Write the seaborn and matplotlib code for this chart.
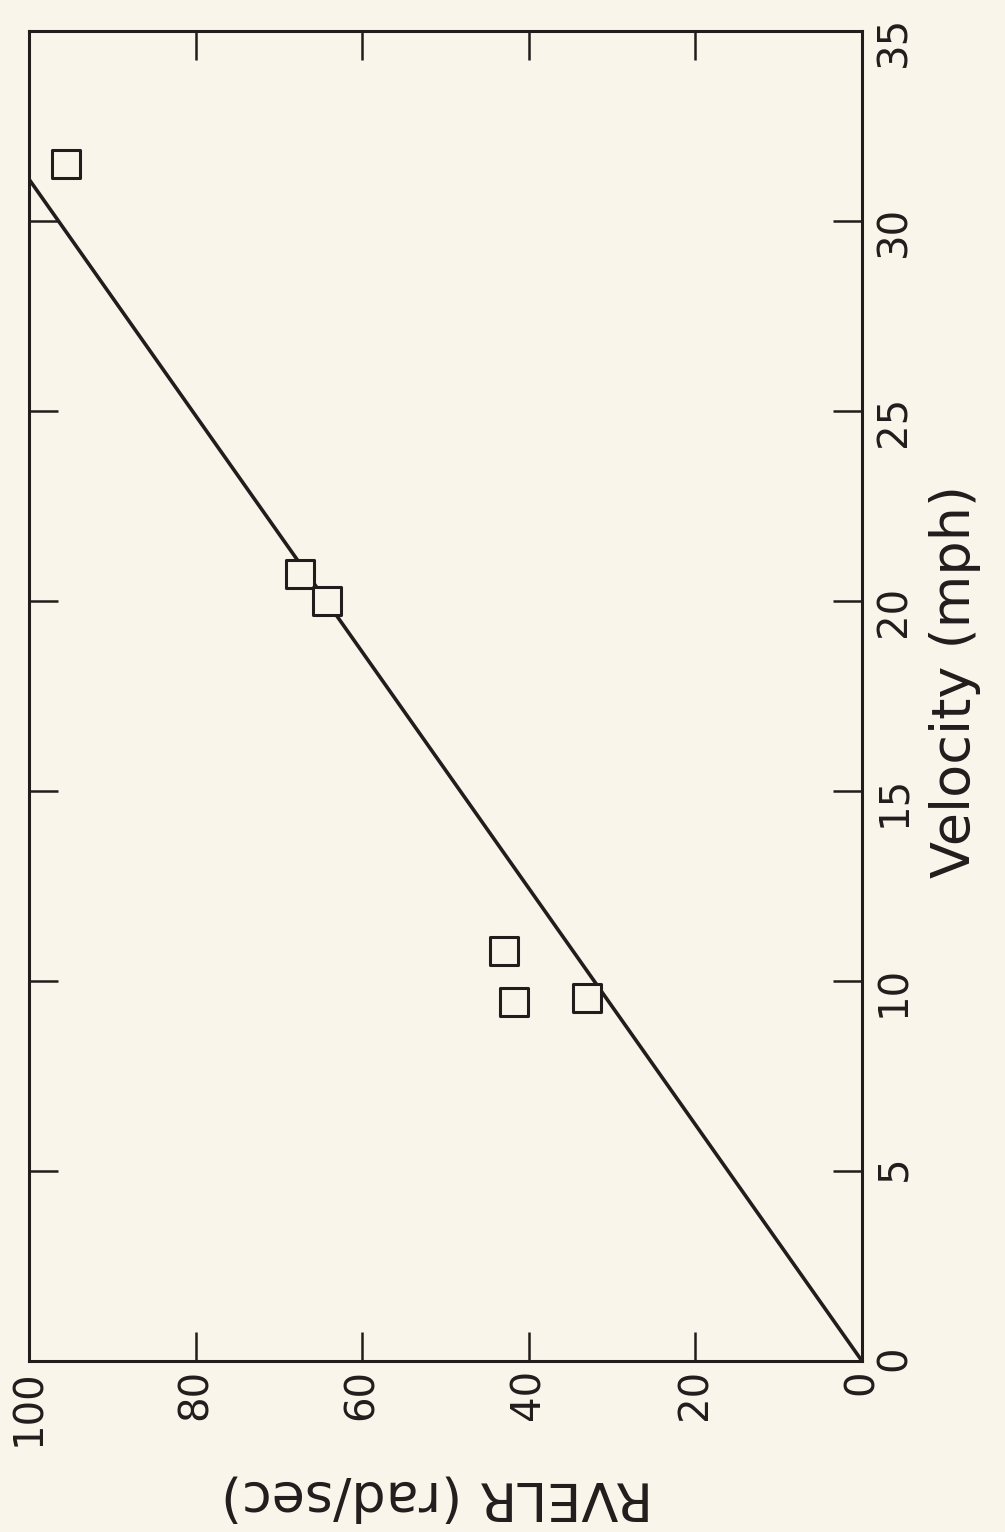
import matplotlib
matplotlib.use("Agg")
import matplotlib.pyplot as plt
import seaborn as sns

sns.set_style("ticks")
plt.rcParams['font.family'] = ['DejaVu Sans']

# data
velocity = [31.5, 20.7, 20.0, 10.8, 9.45, 9.55]   # mph
rvelr = [95.6, 67.5, 64.2, 43.0, 41.8, 33.0]      # rad/sec
fit_velocity = [0, 31.1]
fit_rvelr = [0, 100]

velocity_ticks = [0, 5, 10, 15, 20, 25, 30, 35]
rvelr_ticks = [0, 20, 40, 60, 80, 100]

paper = '#faf5eb'
ink = '#231c1c'

fig = plt.figure(figsize=(10.05, 15.32), dpi=100)
fig.patch.set_facecolor(paper)
# page is printed sideways: RVELR runs right->left, velocity bottom->top
ax = fig.add_axes([29 / 1005, 1 - 1361 / 1532, (862 - 29) / 1005, (1361 - 31) / 1532])
ax.set_facecolor(paper)

sns.lineplot(x=fit_rvelr, y=fit_velocity, ax=ax, color=ink, linewidth=2.6, sort=False, zorder=2)
sns.scatterplot(x=rvelr, y=velocity, ax=ax, marker='s', s=380, facecolor=paper,
                edgecolor=ink, linewidth=2.2, zorder=3)

ax.set_xlim(100, 0)
ax.set_ylim(0, 35)
ax.set_xticks(rvelr_ticks)
ax.set_yticks(velocity_ticks)

for sp in ax.spines.values():
    sp.set_visible(True)
    sp.set_linewidth(2.2)
    sp.set_color(ink)

ax.tick_params(axis='x', direction='in', length=21, width=1.8, color=ink,
               top=True, bottom=True, labeltop=False, labelbottom=True,
               labelrotation=90, labelsize=29, pad=6, labelcolor=ink)
ax.tick_params(axis='y', direction='in', length=21, width=1.8, color=ink,
               left=True, right=True, labelleft=False, labelright=True,
               labelrotation=90, labelsize=29, pad=9, labelcolor=ink)

ax.set_xlabel('RVELR (rad/sec)', fontsize=39, rotation=180, va='center', ha='center', color=ink)
ax.xaxis.set_label_coords(0.49, -0.102)
ax.yaxis.set_label_position('right')
ax.set_ylabel('Velocity (mph)', fontsize=39, rotation=90, va='center', ha='center', color=ink)
ax.yaxis.set_label_coords(1.112, 0.511)

fig.savefig('out.png', dpi=100, facecolor=paper)
